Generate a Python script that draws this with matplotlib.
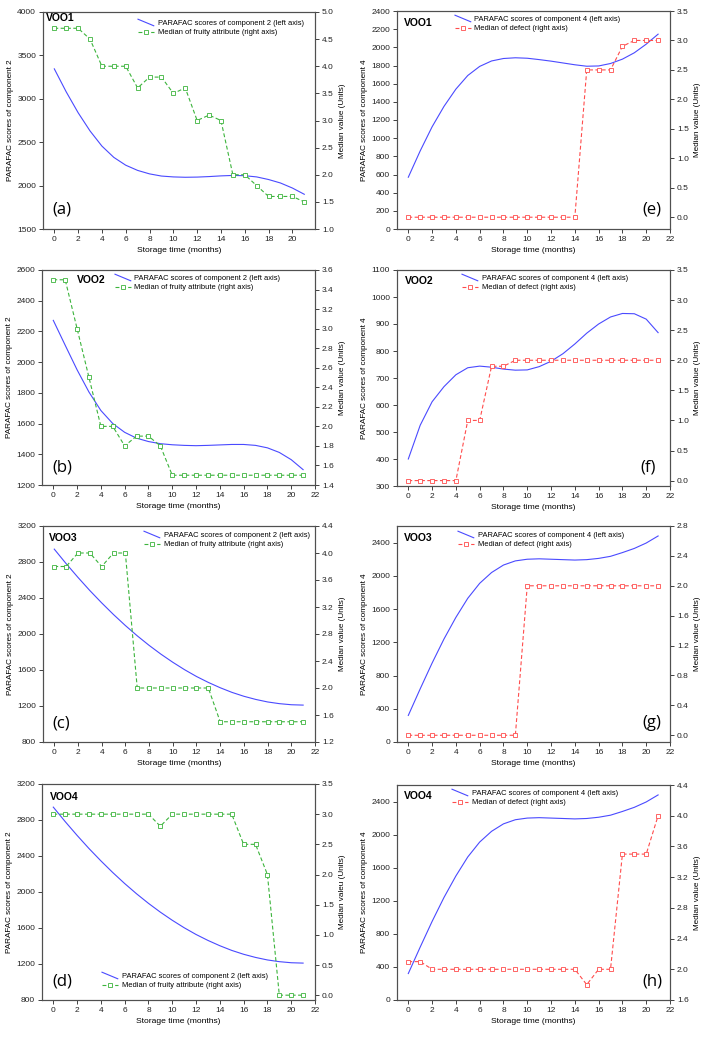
import matplotlib
matplotlib.use('Agg')
import matplotlib.pyplot as plt
import numpy as np
from matplotlib.lines import Line2D
from matplotlib.legend_handler import HandlerBase

plt.rcParams['font.family'] = ['Liberation Sans', 'DejaVu Sans']

months = np.arange(22)

# PARAFAC scores of component 2 (left axis, panels a-d)
voo1_comp2 = [3345, 3080, 2840, 2630, 2455, 2325, 2235, 2175, 2135, 2110, 2100,
              2096, 2098, 2104, 2112, 2117, 2114, 2100, 2070, 2030, 1972, 1900]
voo2_comp2 = [2272, 2110, 1950, 1805, 1685, 1600, 1543, 1505, 1483, 1469, 1462,
              1458, 1456, 1458, 1461, 1464, 1464, 1458, 1442, 1412, 1365, 1300]
voo3_comp2 = [2943, 2782, 2629, 2483, 2346, 2216, 2094, 1980, 1874, 1776, 1686,
              1603, 1528, 1462, 1403, 1351, 1308, 1273, 1245, 1226, 1214, 1210]
voo4_comp2 = [2943, 2782, 2629, 2483, 2346, 2216, 2094, 1980, 1874, 1776, 1686,
              1603, 1528, 1462, 1403, 1351, 1308, 1273, 1245, 1226, 1214, 1210]

# median of fruity attribute (right axis, panels a-d)
voo1_fruity = [4.7, 4.7, 4.7, 4.5, 4.0, 4.0, 4.0, 3.6, 3.8, 3.8, 3.5,
               3.6, 3.0, 3.1, 3.0, 2.0, 2.0, 1.8, 1.6, 1.6, 1.6, 1.5]
voo2_fruity = [3.5, 3.5, 3.0, 2.5, 2.0, 2.0, 1.8, 1.9, 1.9, 1.8, 1.5,
               1.5, 1.5, 1.5, 1.5, 1.5, 1.5, 1.5, 1.5, 1.5, 1.5, 1.5]
voo3_fruity = [3.8, 3.8, 4.0, 4.0, 3.8, 4.0, 4.0, 2.0, 2.0, 2.0, 2.0,
               2.0, 2.0, 2.0, 1.5, 1.5, 1.5, 1.5, 1.5, 1.5, 1.5, 1.5]
voo4_fruity = [3.0, 3.0, 3.0, 3.0, 3.0, 3.0, 3.0, 3.0, 3.0, 2.8, 3.0,
               3.0, 3.0, 3.0, 3.0, 3.0, 2.5, 2.5, 2.0, 0.0, 0.0, 0.0]

# PARAFAC scores of component 4 (left axis, panels e-h)
voo1_comp4 = [570, 860, 1125, 1350, 1540, 1690, 1790, 1850, 1877, 1885, 1880,
              1865, 1848, 1828, 1808, 1792, 1795, 1822, 1870, 1940, 2035, 2145]
voo2_comp4 = [400, 525, 612, 668, 712, 738, 744, 740, 733, 729, 730,
              742, 762, 790, 826, 866, 900, 926, 939, 938, 918, 868]
voo3_comp4 = [320, 640, 950, 1240, 1500, 1730, 1910, 2040, 2130, 2180, 2200,
              2205, 2200, 2195, 2190, 2195, 2210, 2235, 2280, 2330, 2395, 2480]
voo4_comp4 = [320, 640, 950, 1240, 1500, 1730, 1910, 2040, 2130, 2180, 2200,
              2205, 2200, 2195, 2190, 2195, 2210, 2235, 2280, 2330, 2395, 2480]

# median of defect (right axis, panels e-h)
voo1_defect = [0, 0, 0, 0, 0, 0, 0, 0, 0, 0, 0,
               0, 0, 0, 0, 2.5, 2.5, 2.5, 2.9, 3.0, 3.0, 3.0]
voo2_defect = [0, 0, 0, 0, 0, 1.0, 1.0, 1.9, 1.9, 2.0, 2.0,
               2.0, 2.0, 2.0, 2.0, 2.0, 2.0, 2.0, 2.0, 2.0, 2.0, 2.0]
voo3_defect = [0, 0, 0, 0, 0, 0, 0, 0, 0, 0, 2.0,
               2.0, 2.0, 2.0, 2.0, 2.0, 2.0, 2.0, 2.0, 2.0, 2.0, 2.0]
voo4_defect = [2.1, 2.1, 2.0, 2.0, 2.0, 2.0, 2.0, 2.0, 2.0, 2.0, 2.0,
               2.0, 2.0, 2.0, 2.0, 1.8, 2.0, 2.0, 3.5, 3.5, 3.5, 4.0]

W, H = 714, 1039
BLUE = '#4a4aff'
GREEN = '#3cb43c'
RED = '#ff4c4c'
SPINE = '#505050'


class DiagHandler(HandlerBase):
    # slanted line in the legend, like the original software draws it
    def create_artists(self, legend, orig_handle, xdescent, ydescent,
                       width, height, fontsize, trans):
        line = Line2D([-xdescent, -xdescent + width],
                      [-ydescent + height * 1.15, -ydescent - height * 0.1])
        self.update_prop(line, orig_handle, legend)
        line.set_transform(trans)
        return [line]


fig = plt.figure(figsize=(W / 100, H / 100), dpi=100)


def panel(box, comp, med, name, letter, comp_lab, right_lab, med_lab, col,
          ylim_l, ticks_l, ylim_r, ticks_r, xlim, xticks, leg_xy, name_xy,
          letter_xy):
    x0, y0, x1, y1 = box
    ax = fig.add_axes([x0 / W, 1 - y1 / H, (x1 - x0) / W, (y1 - y0) / H])
    ax2 = ax.twinx()
    l1, = ax.plot(months, comp, color=BLUE, lw=0.8)
    l2, = ax2.plot(months, med, color=col, lw=0.8, dashes=(3.5, 2.2),
                   marker='s', ms=3.2, mfc='white', mec=col, mew=0.6)
    ax.set_xlim(*xlim)
    ax.set_xticks(xticks)
    ax.set_ylim(*ylim_l)
    ax.set_yticks(ticks_l)
    ax2.set_ylim(*ylim_r)
    ax2.set_yticks(ticks_r)
    ax2.set_yticklabels([f'{t:.1f}' for t in ticks_r])
    ax.set_xlabel('Storage time (months)', fontsize=6.1, labelpad=3)
    ax.set_ylabel(comp_lab, fontsize=5.9, labelpad=2)
    ax2.set_ylabel(right_lab, fontsize=5.9, labelpad=4)
    for a in (ax, ax2):
        a.tick_params(direction='out', length=3, width=0.6, labelsize=6,
                      pad=2, colors='#222222')
        for s in a.spines.values():
            s.set_color(SPINE)
            s.set_linewidth(0.8)
    ax.legend([l1, l2], [comp_lab + ' (left axis)', med_lab + ' (right axis)'],
              handler_map={l1: DiagHandler()}, numpoints=1,
              loc='upper left', bbox_to_anchor=(leg_xy[0] / W, 1 - leg_xy[1] / H),
              bbox_transform=fig.transFigure, frameon=False, fontsize=5.4,
              borderpad=0, borderaxespad=0, handlelength=2.1,
              handletextpad=0.5, labelspacing=0.25)
    fig.text(name_xy[0] / W, 1 - name_xy[1] / H, name, fontsize=7.5,
             fontweight='bold', va='center', ha='left')
    fig.text(letter_xy[0] / W, 1 - letter_xy[1] / H, letter, fontsize=12,
             va='center', ha='center', family=['Open Sans', 'DejaVu Sans'])


lab2 = 'PARAFAC scores of component 2'
lab4 = 'PARAFAC scores of component 4'
med = 'Median value (Units)'
x22 = np.arange(0, 23, 2)
x20 = np.arange(0, 21, 2)

# left column
panel((43, 12, 315, 229), voo1_comp2, voo1_fruity, 'VOO1', '(a)', lab2, med,
      'Median of fruity attribute', GREEN, (1500, 4000), np.arange(1500, 4001, 500),
      (1.0, 5.0), np.arange(1.0, 5.01, 0.5), (-0.95, 21.9), x20,
      (138, 20), (46, 18), (62, 210))
panel((42, 270, 315, 485), voo2_comp2, voo2_fruity, 'VOO2', '(b)', lab2, med,
      'Median of fruity attribute', GREEN, (1200, 2600), np.arange(1200, 2601, 200),
      (1.4, 3.6), np.arange(1.4, 3.61, 0.2), (-0.95, 22), x22,
      (115, 275), (77, 280), (62, 467))
panel((43, 526, 315, 742), voo3_comp2, voo3_fruity, 'VOO3', '(c)', lab2, med,
      'Median of fruity attribute', GREEN, (800, 3200), np.arange(800, 3201, 400),
      (1.2, 4.4), np.arange(1.2, 4.41, 0.4), (-0.95, 22), x22,
      (144, 532), (49, 538), (61, 723))
panel((42, 784, 315, 1000), voo4_comp2, voo4_fruity, 'VOO4', '(d)', lab2,
      'Median valeu (Units)', 'Median of fruity attribute', GREEN,
      (800, 3200), np.arange(800, 3201, 400),
      (-0.08, 3.5), np.arange(0.0, 3.51, 0.5), (-0.95, 22), x22,
      (102, 973), (50, 797), (62, 982))

# right column
panel((397, 11, 670, 229), voo1_comp4, voo1_defect, 'VOO1', '(e)', lab4, med,
      'Median of defect', RED, (0, 2400), np.arange(0, 2401, 200),
      (-0.2, 3.5), np.arange(0.0, 3.51, 0.5), (-0.95, 22), x22,
      (455, 16), (404, 23), (652, 210))
panel((397, 270, 670, 486), voo2_comp4, voo2_defect, 'VOO2', '(f)', lab4, med,
      'Median of defect', RED, (300, 1100), np.arange(300, 1101, 100),
      (-0.09, 3.5), np.arange(0.0, 3.51, 0.5), (-0.95, 22), x22,
      (462, 275), (405, 281), (648, 467))
panel((397, 526, 670, 742), voo3_comp4, voo3_defect, 'VOO3', '(g)', lab4, med,
      'Median of defect', RED, (0, 2600), np.arange(0, 2401, 400),
      (-0.09, 2.8), np.arange(0.0, 2.81, 0.4), (-0.95, 22), x22,
      (458, 532), (404, 538), (652, 723))
panel((397, 785, 670, 1000), voo4_comp4, voo4_defect, 'VOO4', '(h)', lab4, med,
      'Median of defect', RED, (0, 2600), np.arange(0, 2401, 400),
      (1.6, 4.4), np.arange(1.6, 4.41, 0.4), (-0.95, 22), x22,
      (452, 790), (404, 796), (652, 982))

fig.savefig('out.png', dpi=100)
